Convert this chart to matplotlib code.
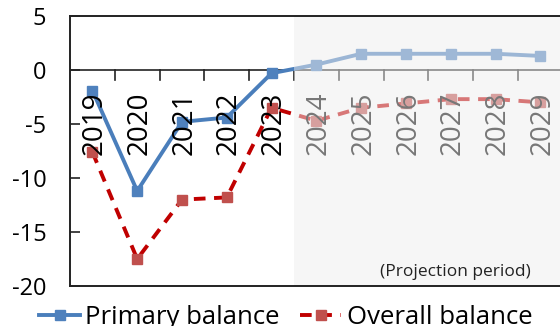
import numpy as np
import matplotlib.pyplot as plt
from matplotlib.patches import Rectangle

plt.rcParams['font.family'] = ['Open Sans', 'DejaVu Sans']
plt.rcParams['axes.unicode_minus'] = False

years = ['2019', '2020', '2021', '2022', '2023', '2024',
         '2025', '2026', '2027', '2028', '2029']
primary = [-1.9, -11.2, -4.8, -4.4, -0.3, 0.5, 1.5, 1.5, 1.5, 1.5, 1.3]
overall = [-7.6, -17.5, -12.0, -11.8, -3.5, -4.7, -3.5, -3.1, -2.7, -2.7, -3.0]
proj_start = 4.5  # projection starts after 2023

fig = plt.figure(figsize=(5.6, 3.26), dpi=100)
ax = fig.add_axes([0.125, 0.1227, 0.88, 0.8283])
x = np.arange(len(years))

ax.plot(x, primary, color='#4a7ebb', lw=2.8, marker='s', ms=6.5,
        mfc='#4f81bd', mec='#4f81bd', zorder=3, label='Primary balance')
ax.plot(x, overall, color='#c00000', lw=2.8, ls=(0, (3, 2.2)), marker='s', ms=6.5,
        mfc='#c0504d', mec='#c0504d', zorder=3, label='Overall balance')

# zero line with category ticks hanging below it
ax.axhline(0, color='#222222', lw=1.2, zorder=2)
for b in np.arange(0.5, len(years) - 0.5):
    ax.plot([b, b], [0, -0.95], color='#222222', lw=1.2, zorder=2)

for i, yr in enumerate(years):
    ax.text(i + 0.05, -2.0, yr, rotation=90, ha='center', va='top',
            fontsize=20, color='black', zorder=4)

ax.set_xlim(-0.5, 10.5)
ax.set_ylim(-20, 5)
ax.set_yticks([5, 0, -5, -10, -15, -20])
ax.set_xticks([])
ax.tick_params(axis='y', direction='in', length=7, width=1.2,
               labelsize=17, pad=17, colors='#222222')
for lbl in ax.get_yticklabels():
    lbl.set_color('black')

for side in ['top', 'bottom', 'left']:
    ax.spines[side].set_linewidth(1.4)
    ax.spines[side].set_color('#222222')
    ax.spines[side].set_zorder(10)
ax.spines['right'].set_visible(False)

# projection period veil drawn over the lines and labels
ax.add_patch(Rectangle((proj_start, -20), 6.5, 25, facecolor='#efefef',
                       edgecolor='none', alpha=0.5, zorder=6))
ax.text(8.1, -19.4, '(Projection period)', ha='center', va='bottom',
        fontsize=12.5, color='#222222', zorder=7)

leg = fig.legend(loc='center', bbox_to_anchor=(0.51, 0.025), ncol=2,
                 frameon=False, fontsize=18.5, handlelength=1.6,
                 handletextpad=0.2, columnspacing=0.8)

fig.savefig('out.png', dpi=100)
